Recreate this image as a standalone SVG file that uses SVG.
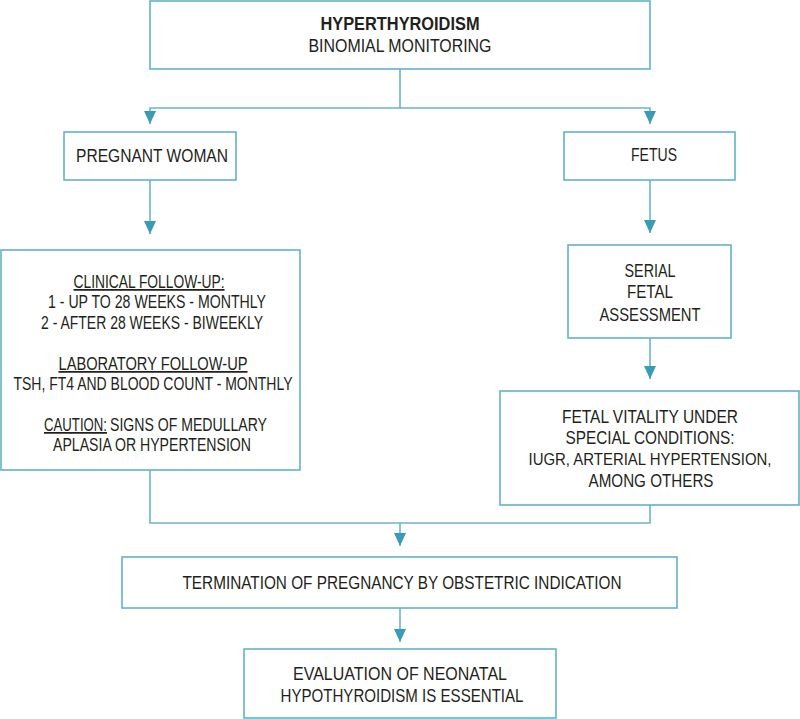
<svg xmlns="http://www.w3.org/2000/svg" width="800" height="719" viewBox="0 0 800 719">
<style>
.box{fill:#ffffff;stroke:#62b3c7;stroke-width:1.6}
.ln{fill:none;stroke:#6ab6c8;stroke-width:1.6}
text{font-family:"Liberation Sans",Arial,sans-serif;font-size:17.5px;fill:#231f20}
.b{font-weight:bold}
.u{text-decoration:underline}
</style>
<defs>
<marker id="ah" markerUnits="userSpaceOnUse" markerWidth="14" markerHeight="12" viewBox="0 0 14 12" refX="13" refY="6" orient="auto">
<path d="M0,0 L13,6 L0,12 Z" fill="#3a9bb5"/>
</marker>
</defs>
<g id="connectors">
<path class="ln" d="M400,69 V108 H150 V124" marker-end="url(#ah)"/>
<path class="ln" d="M400,108 H650 V124" marker-end="url(#ah)"/>
<path class="ln" d="M150,180 V234" marker-end="url(#ah)"/>
<path class="ln" d="M650,180 V233" marker-end="url(#ah)"/>
<path class="ln" d="M650,338 V379" marker-end="url(#ah)"/>
<path class="ln" d="M150,470 V523 H650 V505"/>
<path class="ln" d="M400,523 V546" marker-end="url(#ah)"/>
<path class="ln" d="M400,608 V642" marker-end="url(#ah)"/>
</g>
<g id="n-top" text-anchor="middle">
<rect class="box" x="150" y="1" width="500" height="68"/>
<text x="400" y="30" class="b" textLength="159" lengthAdjust="spacingAndGlyphs">HYPERTHYROIDISM</text>
<text x="400" y="52" textLength="183" lengthAdjust="spacingAndGlyphs">BINOMIAL MONITORING</text>
</g>
<g id="n-pregnant" text-anchor="middle">
<rect class="box" x="64" y="132" width="172" height="48"/>
<text x="152" y="162" textLength="152" lengthAdjust="spacingAndGlyphs">PREGNANT WOMAN</text>
</g>
<g id="n-fetus" text-anchor="middle">
<rect class="box" x="564" y="132" width="171" height="48"/>
<text x="654" y="161" textLength="46" lengthAdjust="spacingAndGlyphs">FETUS</text>
</g>
<g id="n-maternal" text-anchor="middle">
<rect class="box" x="1" y="250" width="299" height="220"/>
<text x="149" y="288" class="u" textLength="151" lengthAdjust="spacingAndGlyphs">CLINICAL FOLLOW-UP:</text>
<text x="157" y="308" textLength="218" lengthAdjust="spacingAndGlyphs">1 - UP TO 28 WEEKS - MONTHLY</text>
<text x="152" y="329" textLength="222" lengthAdjust="spacingAndGlyphs">2 - AFTER 28 WEEKS - BIWEEKLY</text>
<text x="153" y="370" class="u" textLength="189" lengthAdjust="spacingAndGlyphs">LABORATORY FOLLOW-UP</text>
<text x="153" y="390" textLength="279" lengthAdjust="spacingAndGlyphs">TSH, FT4 AND BLOOD COUNT - MONTHLY</text>
<text x="107" y="431" class="u" text-anchor="end" textLength="63" lengthAdjust="spacingAndGlyphs">CAUTION:</text>
<text x="110" y="431" text-anchor="start" textLength="157" lengthAdjust="spacingAndGlyphs">SIGNS OF MEDULLARY</text>
<text x="152" y="451" textLength="198" lengthAdjust="spacingAndGlyphs">APLASIA OR HYPERTENSION</text>
</g>
<g id="n-serial" text-anchor="middle">
<rect class="box" x="568" y="245" width="163" height="93"/>
<text x="650" y="277" textLength="51" lengthAdjust="spacingAndGlyphs">SERIAL</text>
<text x="650" y="298" textLength="46" lengthAdjust="spacingAndGlyphs">FETAL</text>
<text x="650" y="321" textLength="101" lengthAdjust="spacingAndGlyphs">ASSESSMENT</text>
</g>
<g id="n-vitality" text-anchor="middle">
<rect class="box" x="500" y="391" width="299" height="114"/>
<text x="650" y="423" textLength="176" lengthAdjust="spacingAndGlyphs">FETAL VITALITY UNDER</text>
<text x="650" y="444" textLength="169" lengthAdjust="spacingAndGlyphs">SPECIAL CONDITIONS:</text>
<text x="650" y="465" style="font-size:16px" textLength="243" lengthAdjust="spacingAndGlyphs">IUGR, ARTERIAL HYPERTENSION,</text>
<text x="651" y="487" textLength="125" lengthAdjust="spacingAndGlyphs">AMONG OTHERS</text>
</g>
<g id="n-termination" text-anchor="middle">
<rect class="box" x="122" y="557" width="555" height="51"/>
<text x="402" y="589" textLength="439" lengthAdjust="spacingAndGlyphs">TERMINATION OF PREGNANCY BY OBSTETRIC INDICATION</text>
</g>
<g id="n-neonatal" text-anchor="middle">
<rect class="box" x="244" y="649" width="312" height="69"/>
<text x="400" y="680" textLength="214" lengthAdjust="spacingAndGlyphs">EVALUATION OF NEONATAL</text>
<text x="402" y="702" textLength="243" lengthAdjust="spacingAndGlyphs">HYPOTHYROIDISM IS ESSENTIAL</text>
</g>
</svg>
